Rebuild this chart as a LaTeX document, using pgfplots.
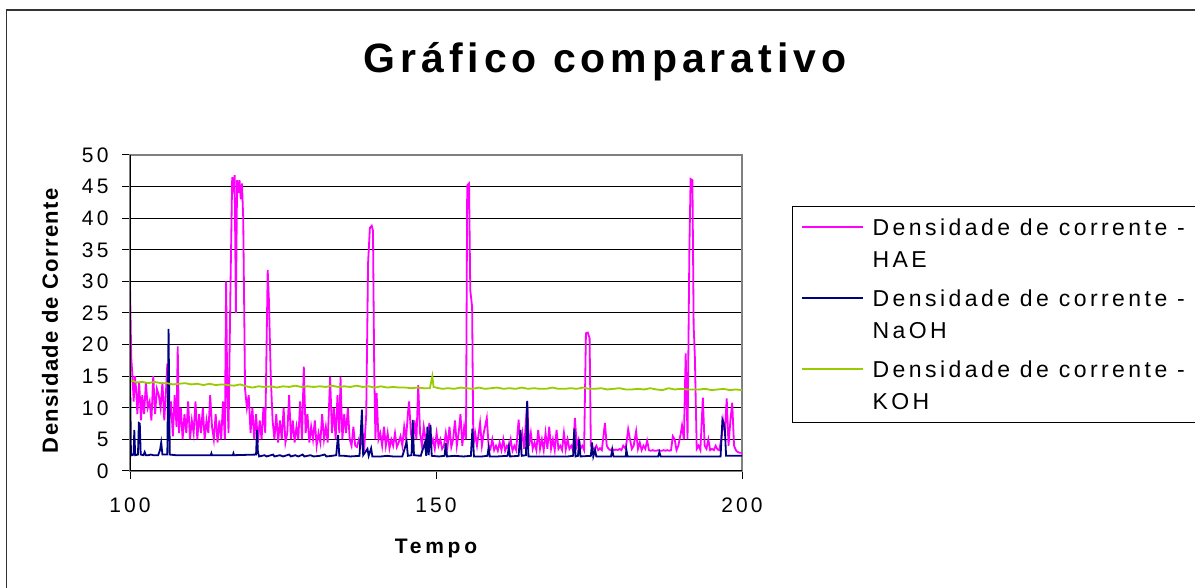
\documentclass[border=0pt]{standalone}
\usepackage{pgfplots}
\pgfplotsset{compat=1.18}
\usepackage{fontspec}
\setmainfont{Liberation Sans}
\newfontfamily\titlefont[LetterSpace=12]{Liberation Sans}
\newfontfamily\tickfont[LetterSpace=15]{Liberation Sans}
\newfontfamily\xlabfont[LetterSpace=18]{Liberation Sans}
\newfontfamily\ylabfont[LetterSpace=6]{Liberation Sans}
\newfontfamily\legfont[LetterSpace=15]{Liberation Sans}

\definecolor{haeMagenta}{RGB}{255,0,255}
\definecolor{naohNavy}{RGB}{0,0,128}
\definecolor{kohGreen}{RGB}{153,204,0}

\newcommand{\legtext}[2]{\parbox[t]{320bp}{\legfont\fontsize{23bp}{32bp}\selectfont #1\\#2}}

\begin{document}
\begin{tikzpicture}
\useasboundingbox (0,0) rectangle (1195bp,588bp);
\fill[white] (0,0) rectangle (1195bp,588bp);
% chart area border
\draw[black!80, line width=1.5bp] (6.5bp,-20bp) rectangle (1230bp,578bp);
% title
\node[anchor=base] at (605bp,515bp) {\titlefont\bfseries\fontsize{41bp}{47bp}\selectfont Gráfico comparativo};

\begin{axis}[
  at={(130bp,117bp)}, anchor=south west,
  width=612bp, height=316bp, scale only axis,
  xmin=100, xmax=200, ymin=0, ymax=50,
  xtick={100,150,200}, ytick={0,5,...,50},
  /pgf/number format/assume math mode=true,
  tick label style={font=\tickfont\fontsize{21bp}{25bp}\selectfont},
  xticklabel style={yshift=-15bp},
  yticklabel style={xshift=-10bp},
  tick align=outside, major tick length=8bp,
  xtick pos=bottom, ytick pos=left,
  tick style={black, line width=1bp},
  ymajorgrids, grid style={black, line width=1bp},
  axis line style={draw=gray, line width=1.5bp},
  xlabel={\xlabfont\bfseries\fontsize{21bp}{25bp}\selectfont Tempo},
  ylabel={\ylabfont\bfseries\fontsize{22bp}{26bp}\selectfont Densidade de Corrente},
  xlabel style={at={(rel axis cs:0.5,-0.2437)}, anchor=center},
  ylabel style={at={(rel axis cs:-0.1307,0.475)}, anchor=center},
  legend cell align=left,
  legend image code/.code={\draw[#1, line width=2bp] (0bp,16bp) -- (61bp,16bp);},
  legend style={at={(rel axis cs:1.0817,0.84)}, anchor=north west,
    line width=1.2bp, inner xsep=8bp, inner ysep=10bp,
    nodes={inner sep=3bp, text depth=}, row sep=16bp, column sep=6bp},
]
\addplot[draw=haeMagenta, line width=1.8bp] coordinates {
(100.0,29.5)(100.2,18)(100.4,15)(100.6,11)(100.8,15)(101.0,13)(101.2,9)(101.5,14)
(101.8,8)(102.0,12)(102.3,9)(102.6,14)(102.9,10)(103.2,11)(103.5,8)(103.8,15)
(104.1,9)(104.4,13)(104.7,12)(105.0,10)(105.3,14)(105.6,8)(105.9,13)(106.1,17)
(106.4,8)(106.7,11)(107.0,5.5)(107.3,12)(107.6,7)(107.8,19.7)(108.0,6)(108.3,10)
(108.6,5)(108.9,9)(109.2,6)(109.5,11)(109.8,5)(110.1,8)(110.4,6)(110.7,11)
(111.0,5)(111.3,9)(111.6,6)(111.9,10)(112.2,5)(112.5,8)(112.8,6)(113.1,12)
(113.4,7)(113.7,5)(114.0,9)(114.3,4.5)(114.6,8)(114.9,5)(115.2,11)(115.5,5)
(115.7,30)(115.9,12)(116.1,6)(116.4,28)(116.7,46.5)(116.9,45)(117.1,46.8)(117.3,25)
(117.5,46)(117.7,44)(117.9,46)(118.1,43)(118.3,45.5)(118.5,40)(118.8,13)(119.1,10)
(119.4,12)(119.7,6)(120.0,10)(120.3,5)(120.6,9)(120.9,4.5)(121.2,8)(121.5,5)
(121.8,10)(122.1,6)(122.5,31.8)(122.7,27)(123.0,15)(123.3,8)(123.6,5)(123.9,9)
(124.2,4.5)(124.5,8)(124.8,5)(125.1,10)(125.4,4.5)(125.7,6)(126.0,12)(126.3,5)
(126.6,8)(126.9,4.5)(127.2,7)(127.5,5)(127.8,11)(128.1,5)(128.4,16.5)(128.7,6)
(129.0,9)(129.3,4.5)(129.6,7)(129.9,5)(130.2,8)(130.5,4)(130.8,6)(131.1,4.5)
(131.4,9)(131.7,5)(132.0,7)(132.3,4.5)(132.7,14.9)(133.0,6)(133.3,10)(133.6,5)
(133.9,12)(134.2,6)(134.4,14.9)(134.7,5)(135.0,9)(135.3,6)(135.6,10)(135.9,5)
(136.2,4)(136.5,7)(136.8,4)(137.1,3.8)(137.4,5)(137.7,4)(138.0,6)(138.3,4)
(138.6,9)(138.9,32.9)(139.2,38.5)(139.5,38.8)(139.7,38)(139.9,16.5)(140.1,5)(140.3,12.3)
(140.6,5)(140.9,6)(141.2,4)(141.5,7)(141.8,4)(142.1,6)(142.4,3.6)(142.7,5)
(143.0,4)(143.3,6)(143.6,3.8)(143.9,4.5)(144.2,5.5)(144.5,4)(144.8,7)(145.1,5)
(145.4,9)(145.6,11)(145.9,6)(146.2,4)(146.5,8)(146.8,5)(147.1,13.6)(147.4,6)
(147.7,4)(148.0,7)(148.3,5)(148.6,4)(148.9,7.6)(149.2,4)(149.5,5)(149.8,3.5)
(150.1,6)(150.4,4)(150.7,5)(151.0,3.5)(151.3,4)(151.6,6)(151.9,4)(152.2,7)
(152.5,3.8)(152.8,5)(153.1,8)(153.4,4)(153.7,6)(154.0,9)(154.3,4)(154.6,7)
(154.9,5)(155.1,45.2)(155.4,45.5)(155.6,28.6)(155.9,26)(156.1,4)(156.4,6)(156.7,4)
(157.2,7.6)(157.5,4)(157.8,6)(158.3,8.4)(158.6,4)(158.9,3.5)(159.2,5)(159.5,3.3)
(159.8,4)(160.1,3.2)(160.4,4.5)(160.7,3.3)(161.0,5)(161.3,3.2)(161.6,4)(161.9,3.5)
(162.2,5)(162.5,3.2)(162.8,4)(163.1,3.3)(163.5,8.1)(163.8,4)(164.1,6)(164.4,3.5)
(164.9,11)(165.2,4)(165.5,6)(165.8,3.5)(166.1,4.5)(166.4,3.3)(166.7,6.5)(167.0,3.5)
(167.3,5)(167.6,3.3)(167.9,6)(168.2,3.5)(168.5,7)(168.8,3.5)(169.1,5)(169.4,3.3)
(169.7,6.5)(170.0,3.5)(170.3,4)(170.6,3.3)(170.9,6)(171.2,3.4)(171.5,5)(171.8,3.5)
(172.1,4)(172.4,3.3)(172.7,8.4)(173.0,4)(173.3,5)(173.6,3.5)(173.9,4)(174.2,3.3)
(174.5,21.8)(174.8,21.9)(175.1,21)(175.3,4)(175.6,3.6)(175.9,3.5)(176.2,4)(176.5,3.3)
(176.8,3.6)(177.1,3.3)(177.6,7.6)(177.9,4)(178.2,3.5)(178.5,3.3)(178.8,3.5)(179.1,3.3)
(179.4,3.4)(179.7,3.3)(180.0,3.5)(180.3,3.3)(180.6,4)(181.0,3.5)(181.4,6.6)(181.7,5)
(182.0,3.5)(182.3,4)(182.7,6.3)(183.0,3.5)(183.3,4.5)(183.6,3.3)(183.9,4)(184.2,3.5)
(184.5,4.8)(184.8,3.3)(185.1,3.2)(185.4,3.3)(185.7,3.2)(186.0,3.2)(186.3,3.3)(186.6,3.2)
(186.9,3.2)(187.2,3.3)(187.5,3.2)(187.8,3.3)(188.1,3.2)(188.4,3.3)(188.7,5.5)(189.0,5)
(189.3,3.3)(189.6,4)(190.0,6)(190.2,7.2)(190.5,5)(190.8,18.6)(191.1,5)(191.4,35)
(191.6,46.2)(191.9,46)(192.1,23)(192.3,18)(192.6,3.5)(192.9,4)(193.2,3.3)(193.6,11.6)
(193.9,4)(194.2,3.5)(194.5,5)(194.8,3.3)(195.1,3.5)(195.4,3.3)(195.7,4)(196.0,3.4)
(196.3,3.3)(196.6,5)(196.9,8)(197.2,6)(197.5,11.5)(197.8,4)(198.1,8)(198.4,10.8)
(198.7,4)(199.0,3.3)(199.3,3)(199.6,2.9)(200.0,2.9)
};
\addlegendentry{\legtext{Densidade de corrente -}{HAE}}
\addplot[draw=naohNavy, line width=1.8bp] coordinates {
(100.0,17)(100.15,3)(100.3,2.5)(100.6,2.6)(100.7,6.5)(100.85,2.5)(101.3,2.6)(101.45,7.6)
(101.6,7.5)(101.75,2.6)(102.2,2.5)(102.4,3)(102.6,2.5)(103.0,2.5)(103.4,2.6)(103.8,2.5)
(104.6,2.5)(104.9,3.3)(105.1,4.5)(105.3,2.6)(106.1,2.6)(106.3,22.5)(106.5,2.6)(107.5,2.5)
(110.5,2.5)(113.2,2.5)(113.3,2.8)(113.4,2.5)(116.8,2.5)(116.9,2.8)(117.0,2.5)(120.6,2.6)
(120.75,6.5)(120.9,3)(121.1,2.3)(122.0,2.5)(122.3,2.3)(123.4,2.6)(123.6,2.3)(124.5,2.5)
(125.0,2.3)(126.0,2.6)(126.3,2.3)(127.0,2.5)(127.5,2.3)(128.2,2.6)(128.5,2.3)(129.5,2.5)
(130.0,2.3)(131.0,2.4)(131.8,2.6)(132.1,2.3)(133.0,2.4)(133.7,2.5)(134.0,5.7)(134.2,2.4)
(135.0,2.4)(136.0,2.3)(137.5,2.4)(137.9,9.7)(138.1,2.5)(138.8,3.5)(139.0,2.4)(139.4,3.6)
(139.6,2.3)(141.0,2.3)(142.0,2.4)(143.0,2.3)(144.5,2.3)(145.2,4.6)(145.4,2.4)(146.0,2.5)
(146.2,8.1)(146.4,2.5)(147.5,2.4)(148.2,4.5)(148.4,2.4)(148.6,7)(148.8,2.5)(149.1,7.3)
(149.3,2.4)(150.5,2.3)(151.4,2.4)(151.6,4.4)(151.8,2.3)(153.0,2.4)(154.5,2.3)(155.7,2.4)
(155.95,6.7)(156.2,2.3)(157.5,2.3)(158.4,2.4)(158.6,3.7)(158.8,2.3)(160.0,2.3)(161.7,2.4)
(161.9,3.8)(162.1,2.3)(163.5,2.4)(163.8,6.5)(164.0,2.4)(164.7,2.5)(164.9,11.1)(165.1,2.3)
(167.0,2.3)(168.5,2.3)(170.0,2.3)(171.5,2.3)(172.4,2.4)(172.6,6.7)(172.8,2.3)(173.2,2.4)
(173.4,5)(173.6,2.3)(175.3,2.4)(175.5,4.5)(175.7,2.3)(176.0,3.3)(176.2,2.3)(178.6,2.3)
(178.8,3.4)(179.0,2.3)(181.0,2.3)(181.1,3.4)(181.3,2.3)(185.0,2.3)(186.3,2.3)(186.5,3)
(186.7,2.3)(196.5,2.3)(196.8,8.1)(197.0,7.6)(197.2,6.5)(197.4,2.4)(200.0,2.4)
};
\addlegendentry{\legtext{Densidade de corrente -}{NaOH}}
\addplot[draw=kohGreen, line width=1.8bp] coordinates {
(100,14.1)(100.5,14.3)(101,14.0)(102,14.1)(103,13.9)(104,14.1)(105,13.9)(106,13.9)
(107,13.7)(108,13.8)(109,13.9)(110,13.7)(111,13.8)(112,13.6)(113,13.8)(114,13.6)
(115,13.7)(116,13.6)(117,13.5)(118,13.7)(119,13.4)(120,13.2)(121,13.4)(122,13.3)
(123,13.4)(124,13.2)(125,13.4)(126,13.3)(127,13.5)(128,13.3)(129,13.4)(130,13.3)
(131,13.4)(132,13.3)(133,13.5)(134,13.3)(135,13.4)(136,13.3)(137,13.5)(138,13.3)
(139,13.4)(140,13.2)(141,13.4)(142,13.2)(143,13.3)(144,13.2)(145,13.2)(146,13.1)
(147,13.2)(148,13.1)(149,13.1)(149.4,15)(149.6,13.3)(150,13.2)(151,13.0)(152,13.1)
(153,13.0)(154,13.2)(155,13.1)(156,13.0)(157,13.2)(158,13.0)(159,13.1)(160,13.2)
(161,13.0)(162,13.1)(163,13.0)(164,13.2)(165,13.0)(166,13.1)(167,13.0)(168,13.0)
(169,13.2)(170,13.0)(171,13.0)(172,13.1)(173,13.0)(174,13.2)(175,13.0)(176,13.0)
(177,13.1)(178,12.9)(179,13.0)(180,13.1)(181,12.9)(182,12.9)(183,13.0)(184,12.9)
(185,13.1)(186,12.9)(187,12.8)(188,13.1)(189,12.9)(190,13.0)(191,12.9)(192,12.9)
(193,12.9)(194,13.0)(195,12.8)(196,12.9)(197,13.0)(198,12.8)(199,12.9)(200,12.8)
};
\addlegendentry{\legtext{Densidade de corrente -}{KOH}}
% left and bottom axis lines in black
\draw[black, line width=1.2bp] (rel axis cs:0,1) -- (rel axis cs:0,0) -- (rel axis cs:1,0);
\end{axis}
\end{tikzpicture}
\end{document}
